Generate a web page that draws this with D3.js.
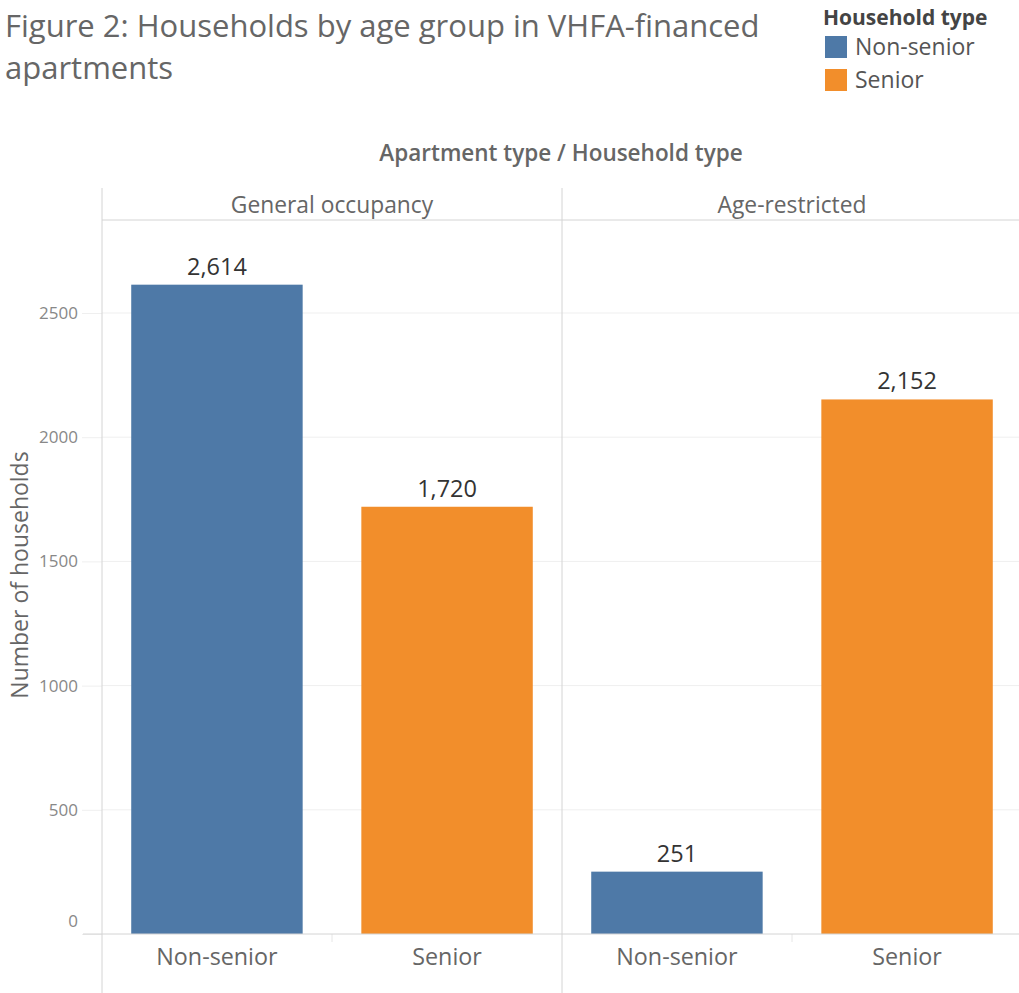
<!DOCTYPE html>
<html>
<head>
<meta charset="utf-8">
<script src="https://cdn.jsdelivr.net/npm/d3@7"></script>
<style>
  body { margin: 0; background: #fff; }
  text { font-family: "Open Sans", sans-serif; }
</style>
</head>
<body>
<div id="chart"></div>
<script>
// data
var apartmentTypes = ["General occupancy", "Age-restricted"];
var householdTypes = ["Non-senior", "Senior"];
var generalValues = [2614, 1720];
var restrictedValues = [251, 2152];
var yTicks = [0, 500, 1000, 1500, 2000, 2500];
var colors = ["#4e79a7", "#f28e2b"];

var W = 1019, H = 993;
var margin = {top: 220, left: 102, bottom: 59};
var paneWidth = 460;

var svg = d3.select("#chart").append("svg")
  .attr("width", W)
  .attr("height", H);

// title
svg.append("text")
  .attr("x", 5).attr("y", 37)
  .attr("font-size", 31).attr("fill", "#666")
  .text("Figure 2: Households by age group in VHFA-financed");
svg.append("text")
  .attr("x", 5).attr("y", 79)
  .attr("font-size", 31).attr("fill", "#666")
  .text("apartments");

// legend
svg.append("text")
  .attr("x", 823).attr("y", 25)
  .attr("font-size", 21).attr("font-weight", "bold").attr("fill", "#444")
  .text("Household type");
var legend = svg.selectAll(".legend")
  .data(householdTypes)
  .enter().append("g")
  .attr("transform", function(d, i) { return "translate(825," + (36 + i * 33) + ")"; });
legend.append("rect")
  .attr("width", 22).attr("height", 22)
  .attr("fill", function(d, i) { return colors[i]; });
legend.append("text")
  .attr("x", 30).attr("y", 19)
  .attr("font-size", 23).attr("fill", "#555")
  .text(function(d) { return d; });

// y scale
var y = d3.scaleLinear().domain([0, 2500]).range([934, 313]);

// pane scale
var pane = d3.scaleBand().domain(apartmentTypes).range([margin.left, margin.left + 2 * paneWidth]);
var x = d3.scaleBand().domain(householdTypes).range([0, paneWidth]).paddingInner(0.255).paddingOuter(0.127);

// gridlines
svg.append("g").selectAll("line")
  .data(yTicks.filter(function(d) { return d > 0; }))
  .enter().append("line")
  .attr("x1", margin.left).attr("x2", W)
  .attr("y1", function(d) { return y(d); })
  .attr("y2", function(d) { return y(d); })
  .attr("stroke", "#efefef").attr("stroke-width", 1);

// y axis ticks + labels
var yAxis = d3.axisLeft(y).tickValues(yTicks).tickSize(20).tickPadding(4).tickFormat(d3.format("d"));
var yg = svg.append("g")
  .attr("transform", "translate(" + margin.left + ",0)")
  .call(yAxis);
yg.select(".domain").remove();
yg.selectAll(".tick line").attr("stroke", "#efefef");
yg.selectAll(".tick text")
  .attr("font-family", "'Open Sans', sans-serif")
  .attr("font-size", 17).attr("fill", "#888")
  .attr("dy", function(d) { return d === 0 ? "-0.45em" : "0.32em"; });

// y axis title
svg.append("text")
  .attr("transform", "translate(28,575) rotate(-90)")
  .attr("text-anchor", "middle")
  .attr("font-size", 23).attr("fill", "#666")
  .text("Number of households");

// column header
svg.append("text")
  .attr("x", 561).attr("y", 161)
  .attr("text-anchor", "middle")
  .attr("font-size", 22.5).attr("font-weight", 600).attr("fill", "#666")
  .text("Apartment type / Household type");

// panes
var paneData = [generalValues, restrictedValues];
apartmentTypes.forEach(function(apt, p) {
  var g = svg.append("g").attr("transform", "translate(" + pane(apt) + ",0)");
  var vals = householdTypes.map(function(h, i) { return {type: h, value: paneData[p][i], color: colors[i]}; });

  g.append("text")
    .attr("x", paneWidth / 2).attr("y", 213)
    .attr("text-anchor", "middle")
    .attr("font-size", 22.8).attr("fill", "#666")
    .text(apt);

  g.selectAll("rect")
    .data(vals)
    .enter().append("rect")
    .attr("x", function(d) { return x(d.type); })
    .attr("y", function(d) { return y(d.value); })
    .attr("width", x.bandwidth())
    .attr("height", function(d) { return y(0) - y(d.value); })
    .attr("fill", function(d) { return d.color; });

  g.selectAll(".val")
    .data(vals)
    .enter().append("text")
    .attr("class", "val")
    .attr("x", function(d) { return x(d.type) + x.bandwidth() / 2; })
    .attr("y", function(d) { return y(d.value) - 10; })
    .attr("text-anchor", "middle")
    .attr("font-size", 23.5).attr("fill", "#333")
    .text(function(d) { return d3.format(",")(d.value); });

  g.selectAll(".cat")
    .data(householdTypes)
    .enter().append("text")
    .attr("class", "cat")
    .attr("x", function(d) { return x(d) + x.bandwidth() / 2; })
    .attr("y", 965)
    .attr("text-anchor", "middle")
    .attr("font-size", 23.3).attr("fill", "#666")
    .text(function(d) { return d; });

  // small divider between categories
  g.append("line")
    .attr("x1", paneWidth / 2).attr("x2", paneWidth / 2)
    .attr("y1", 934).attr("y2", 942)
    .attr("stroke", "#e6e6e6");
});

// frame lines
svg.append("line")
  .attr("x1", margin.left).attr("x2", W)
  .attr("y1", margin.top).attr("y2", margin.top)
  .attr("stroke", "#d4d4d4");
svg.append("line")
  .attr("x1", 83).attr("x2", W)
  .attr("y1", y(0)).attr("y2", y(0))
  .attr("stroke", "#d4d4d4");
[margin.left, margin.left + paneWidth].forEach(function(xv) {
  svg.append("line")
    .attr("x1", xv).attr("x2", xv)
    .attr("y1", 188).attr("y2", H)
    .attr("stroke", "#d4d4d4");
});
</script>
</body>
</html>
